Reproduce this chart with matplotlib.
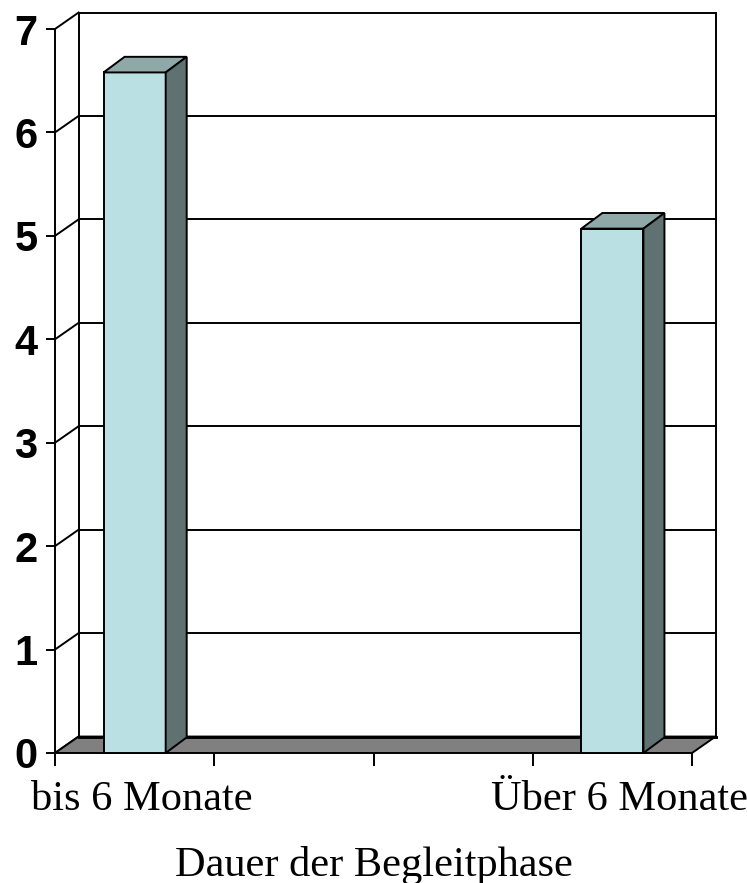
import matplotlib
matplotlib.use("Agg")
import matplotlib.pyplot as plt
from matplotlib.patches import Polygon
import matplotlib.transforms as mtransforms
import numpy as np

# ---- data ----
categories = ["bis 6 Monate", "", "", "Über 6 Monate"]
values = [6.58, None, None, 5.07]
y_ticks = [0, 1, 2, 3, 4, 5, 6, 7]
x_label = "Dauer der Begleitphase"

# ---- style ----
front_col = "#BBE0E3"
top_col = "#8FA8A8"
side_col = "#5F7171"
floor_col = "#808080"
lw = 1.4

fig = plt.figure(figsize=(7.47, 8.83), dpi=100)
ax = fig.add_axes([55/747, 130/883, 637/747, 724/883])
n = len(categories)
ymax = max(y_ticks)
ax.set_xlim(0, n)
ax.set_ylim(0, ymax)
for s in ax.spines.values():
    s.set_visible(False)

# depth offsets (data units)
ddx, ddy = 0.148, 0.159       # wall/floor depth
bdx, bdy = 0.132, 0.151       # bar depth
bw = 0.39                     # bar width

kw = dict(clip_on=False)
# back wall
ax.add_patch(Polygon([(ddx, ddy), (n+ddx, ddy), (n+ddx, ymax+ddy), (ddx, ymax+ddy)],
                     closed=True, facecolor="white", edgecolor="black", lw=lw, zorder=1, **kw))
for t in y_ticks[1:-1]:
    ax.plot([ddx, n+ddx], [t+ddy, t+ddy], color="black", lw=lw, zorder=2, **kw)
# left wall
for t in y_ticks:
    ax.plot([0, ddx], [t, t+ddy], color="black", lw=lw, zorder=2, **kw)
ax.plot([0, 0], [0, ymax], color="black", lw=lw, zorder=2, **kw)
# floor
ax.add_patch(Polygon([(0, 0), (n, 0), (n+ddx, ddy), (ddx, ddy)], closed=True,
                     facecolor=floor_col, edgecolor="black", lw=lw, zorder=3, **kw))
ax.plot([ddx, n+ddx], [ddy, ddy], color="black", lw=lw*1.5, zorder=3, **kw)

# bars
for i, v in enumerate(values):
    if v is None:
        continue
    x0 = i + 0.5 - bw/2
    x1 = i + 0.5 + bw/2
    ax.add_patch(Polygon([(x0, 0), (x1, 0), (x1, v), (x0, v)], closed=True,
                         facecolor=front_col, edgecolor="black", lw=lw, zorder=5, **kw))
    ax.add_patch(Polygon([(x0, v), (x1, v), (x1+bdx, v+bdy), (x0+bdx, v+bdy)], closed=True,
                         facecolor=top_col, edgecolor="black", lw=lw, zorder=5, **kw))
    ax.add_patch(Polygon([(x1, 0), (x1+bdx, bdy), (x1+bdx, v+bdy), (x1, v)], closed=True,
                         facecolor=side_col, edgecolor="black", lw=lw, zorder=5, **kw))

# ticks
ax.set_yticks(y_ticks)
ax.set_yticklabels([str(t) for t in y_ticks], fontfamily="Liberation Sans",
                   fontweight="bold", fontsize=30)
ax.tick_params(axis="y", direction="out", length=6.5, width=lw, pad=6)
ax.set_xticks(np.arange(0, n+1))
ax.set_xticklabels([])
ax.tick_params(axis="x", which="major", direction="out", length=9, width=lw)
ax.set_xticks(np.arange(n) + 0.5, minor=True)
ax.set_xticklabels(categories, minor=True, fontfamily="Liberation Serif", fontsize=30.5)
ax.tick_params(axis="x", which="minor", length=0, pad=20)
shift = mtransforms.ScaledTranslation(7/100, 0, fig.dpi_scale_trans)
for lab in ax.get_xticklabels(minor=True):
    lab.set_transform(lab.get_transform() + shift)
ax.set_xlabel(x_label, fontfamily="Liberation Serif", fontsize=30.5, labelpad=19)

fig.savefig("out.png", dpi=100)
